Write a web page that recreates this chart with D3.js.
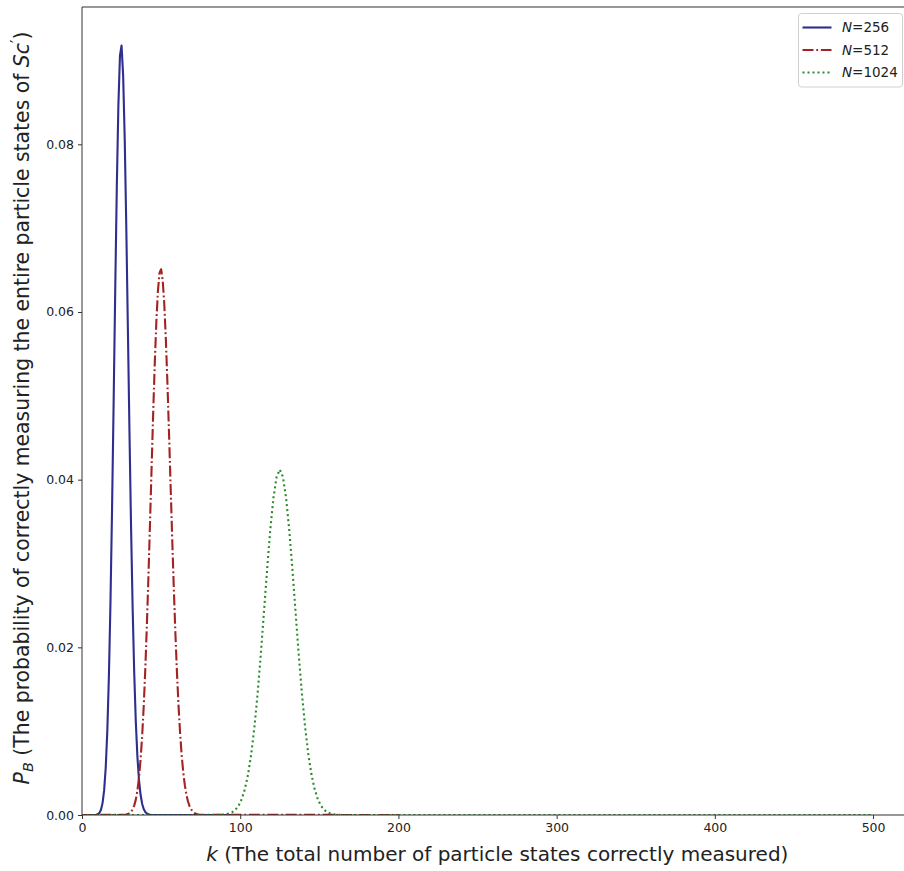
<!DOCTYPE html>
<html>
<head>
<meta charset="utf-8">
<script src="https://cdn.jsdelivr.net/npm/d3@7"></script>
<style>
  html, body { margin: 0; padding: 0; background: #fff; }
  svg { display: block; font-family: "DejaVu Sans", sans-serif; }
</style>
</head>
<body>
<svg id="chart" width="904" height="871"></svg>
<script>
// ---- data ----
const seriesLabels = ["256", "512", "1024"];

const k256 = [0, 9, 10, 11, 12, 13, 14, 15, 16, 17, 18, 19, 20, 21, 22, 23, 24, 25, 26, 27, 28, 29, 30, 31, 32, 33, 34, 35, 36, 37, 38, 39, 40, 41, 42, 43, 100];
const p256 = [0, 0.000031, 0.000094, 0.000256, 0.000634, 0.00143, 0.002963, 0.005662, 0.01003, 0.01651, 0.02538, 0.03652, 0.0493, 0.0626, 0.07493, 0.0847, 0.09058, 0.09179, 0.08826, 0.08063, 0.07007, 0.05799, 0.04575, 0.03443, 0.02475, 0.017, 0.01117, 0.00702, 0.00422, 0.00244, 0.00135, 0.000714, 0.000363, 0.000177, 0.000083, 0.000037, 0];

const k512 = [0, 27, 28, 29, 30, 31, 32, 33, 34, 35, 36, 37, 38, 39, 40, 41, 42, 43, 44, 45, 46, 47, 48, 49, 50, 51, 52, 53, 54, 55, 56, 57, 58, 59, 60, 61, 62, 63, 64, 65, 66, 67, 68, 69, 70, 71, 72, 73, 74, 75, 200];
const p512 = [0, 0.0000265, 0.0000546, 0.000108, 0.000205, 0.000374, 0.000659, 0.001119, 0.001832, 0.002896, 0.004424, 0.006536, 0.009346, 0.01294, 0.01736, 0.02259, 0.0285, 0.03491, 0.04152, 0.04798, 0.05389, 0.05886, 0.06254, 0.06467, 0.0651, 0.06382, 0.06096, 0.05674, 0.05149, 0.04556, 0.03932, 0.03311, 0.02721, 0.02183, 0.0171, 0.01308, 0.009777, 0.007139, 0.005094, 0.003553, 0.002422, 0.001615, 0.001053, 0.000671, 0.000419, 0.000256, 0.000153, 0.0000893, 0.0000511, 0.0000286, 0];

const k1024 = [0, 85, 87, 89, 91, 93, 95, 97, 99, 101, 103, 105, 107, 109, 111, 113, 115, 117, 119, 121, 123, 125, 127, 129, 131, 133, 135, 137, 139, 141, 143, 145, 147, 149, 151, 153, 155, 157, 159, 161, 163, 165, 500];
const p1024 = [0, 0.0000079, 0.0000186, 0.000041, 0.0000866, 0.000175, 0.000339, 0.00063, 0.00112, 0.001909, 0.003118, 0.00488, 0.007319, 0.01052, 0.01449, 0.01911, 0.02417, 0.02929, 0.034, 0.03783, 0.04033, 0.0412, 0.04033, 0.03783, 0.034, 0.02929, 0.02417, 0.01911, 0.01449, 0.01052, 0.007319, 0.00488, 0.003118, 0.001909, 0.00112, 0.00063, 0.000339, 0.000175, 0.0000866, 0.000041, 0.0000186, 0.0000079, 0];

const xTicks = [0, 100, 200, 300, 400, 500];
const yTicks = [0, 0.02, 0.04, 0.06, 0.08];

// ---- layout ----
const svg = d3.select("#chart");
const mLeft = 82, mRight = 912.6, mTop = 7, mBottom = 815;

const x = d3.scaleLinear().domain([0, 525]).range([mLeft, mRight]);
const y = d3.scaleLinear().domain([0, 0.09638]).range([mBottom, mTop]);

const LW = 2.1;
const styles = [
  { color: "#2e2e8f", dash: null },
  { color: "#a42222", dash: "11,2.8,1.8,2.8" },
  { color: "#2a8a2a", dash: "2,3" }
];
const series = [
  { k: k256, p: p256 },
  { k: k512, p: p512 },
  { k: k1024, p: p1024 }
];

svg.append("defs").append("clipPath").attr("id", "clip")
  .append("rect").attr("x", mLeft).attr("y", mTop)
  .attr("width", mRight - mLeft).attr("height", mBottom - mTop);

const line = d3.line().x(d => x(d[0])).y(d => y(d[1]));

const plot = svg.append("g").attr("clip-path", "url(#clip)");
series.forEach((s, i) => {
  const pts = s.k.map((kk, j) => [kk, s.p[j]]);
  plot.append("path")
    .datum(pts)
    .attr("d", line)
    .attr("fill", "none")
    .attr("stroke", styles[i].color)
    .attr("stroke-width", LW)
    .attr("stroke-linejoin", "round")
    .attr("stroke-dasharray", styles[i].dash);
});

// spines
const spine = "#333";
svg.append("line").attr("x1", mLeft).attr("x2", mLeft).attr("y1", mTop).attr("y2", mBottom)
  .attr("stroke", spine).attr("stroke-width", 1);
svg.append("line").attr("x1", mLeft).attr("x2", mRight).attr("y1", mTop).attr("y2", mTop)
  .attr("stroke", spine).attr("stroke-width", 1);
svg.append("line").attr("x1", mLeft).attr("x2", mRight).attr("y1", mBottom).attr("y2", mBottom)
  .attr("stroke", spine).attr("stroke-width", 1);

// axes
const xAxis = svg.append("g").attr("transform", `translate(0,${mBottom})`)
  .call(d3.axisBottom(x).tickValues(xTicks).tickSize(4).tickSizeOuter(0).tickPadding(4).tickFormat(d3.format("d")));
const yAxis = svg.append("g").attr("transform", `translate(${mLeft},0)`)
  .call(d3.axisLeft(y).tickValues(yTicks).tickSize(4).tickSizeOuter(0).tickPadding(4).tickFormat(d3.format(".2f")));
[xAxis, yAxis].forEach(a => {
  a.select(".domain").remove();
  a.selectAll(".tick line").attr("stroke", spine);
  a.selectAll(".tick text").attr("fill", "#222").style("font-size", "12.5px")
    .style("font-family", "'DejaVu Sans', sans-serif");
});

// axis labels
const xl = svg.append("text")
  .attr("x", (mLeft + mRight) / 2).attr("y", 861)
  .attr("text-anchor", "middle").attr("fill", "#222")
  .style("font-size", "20px");
xl.append("tspan").attr("font-style", "italic").text("k");
xl.append("tspan").text(" (The total number of particle states correctly measured)");

const yl = svg.append("text")
  .attr("transform", `translate(29,408) rotate(-90)`)
  .attr("text-anchor", "middle").attr("fill", "#222")
  .style("font-size", "20.4px");
yl.append("tspan").attr("font-style", "italic").text("P");
yl.append("tspan").attr("font-style", "italic").attr("dy", 4).style("font-size", "14.5px").text("B");
yl.append("tspan").attr("dy", -4).text(" (The probability of correctly measuring the entire particle states of ");
yl.append("tspan").attr("font-style", "italic").text("Sc");
yl.append("tspan").attr("dy", -7).style("font-size", "15px").text("′");
yl.append("tspan").attr("dy", 7).text(")");

// legend
const lg = svg.append("g");
const lx = 798.5, ly = 13.5, lw = 104, lh = 73.5;
lg.append("rect").attr("x", lx).attr("y", ly).attr("width", lw).attr("height", lh)
  .attr("rx", 3).attr("fill", "#fff").attr("fill-opacity", 0.8)
  .attr("stroke", "#d0d0d0").attr("stroke-width", 1);
const rowY = [27.5, 50, 72.5];
seriesLabels.forEach((lab, i) => {
  lg.append("line").attr("x1", 802.5).attr("x2", 831.5).attr("y1", rowY[i]).attr("y2", rowY[i])
    .attr("stroke", styles[i].color).attr("stroke-width", LW)
    .attr("stroke-dasharray", styles[i].dash);
  const t = lg.append("text").attr("x", 842).attr("y", rowY[i] + 4.8)
    .attr("fill", "#222").style("font-size", "13.5px");
  t.append("tspan").attr("font-style", "italic").text("N");
  t.append("tspan").text("=" + lab);
});
</script>
</body>
</html>
